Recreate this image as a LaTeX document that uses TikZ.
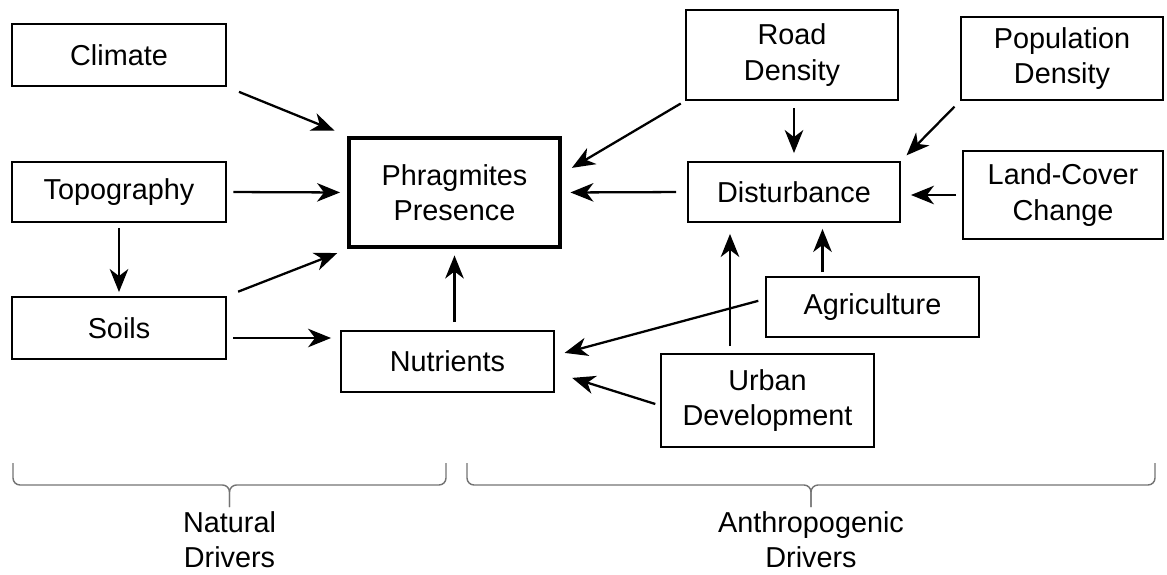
\documentclass[tikz,border=0pt]{standalone}
\usepackage{fontspec}
\setmainfont{Liberation Sans}
\usetikzlibrary{arrows.meta,calc}

\begin{document}
\begin{tikzpicture}[x=0.02cm,y=-0.02cm,
		box/.style={draw, line width=1.1pt, inner sep=0pt, align=center, minimum width=4.26cm, minimum height=1.22cm, font=\fontsize{16.4}{20}\selectfont},
		arr/.style={-{Stealth[length=0.46cm,width=0.37cm,inset=0.14cm]}, line width=1.3pt, shorten <=0.13cm, shorten >=0.13cm},
		brc/.style={draw=black!55, line width=0.8pt, rounded corners=4pt},
		lbl/.style={align=center, font=\fontsize{16.4}{20}\selectfont}]
		\useasboundingbox (0,0) rectangle (1167,575);
		\begin{scope}
			\node[box,minimum width=4.28cm,minimum height=1.24cm] (clim) at (119,55) {Climate};
			\node[box,minimum width=4.28cm,minimum height=1.2cm] (topo) at (119,192) {Topography};
			\node[box,minimum width=4.28cm,minimum height=1.24cm] (soil) at (119,328) {Soils};
			\node[box,line width=2.8pt,minimum width=4.22cm,minimum height=2.18cm] (phrag) at (454.5,192.5) {Phragmites\\Presence};
			\node[box] (nutr) at (447.5,361.5) {Nutrients};
			\coordinate (s1) at ($(soil.east)+(0,10)$);
			\path[arr] (clim.south east) edge[shorten <=0.26cm, shorten >=0.26cm] (phrag.north west)
				(topo.east) edge (phrag.west)
				(topo) edge[shorten <=0.1cm, shorten >=0.08cm] (soil)
				(soil.north east) edge[shorten <=0.24cm, shorten >=0.2cm] (phrag.south west)
				(s1) edge[shorten >=0.18cm] (s1 -| nutr.west)
				(phrag.south |- nutr.north) edge[shorten <=0.16cm, shorten >=0.12cm] (phrag.south);
		\end{scope}
		\begin{scope}
			\node[box,minimum width=4.24cm,minimum height=1.8cm] (road) at (792,55) {Road\\Density};
			\node[box,minimum width=4.04cm,minimum height=1.66cm] (pop) at (1062,58.5) {Population\\Density};
			\node[box,minimum width=4.24cm,minimum height=1.2cm] (dist) at (794,192) {Disturbance};
			\node[box,minimum width=4cm,minimum height=1.76cm] (land) at (1063,195) {Land-Cover\\Change};
			\node[box,minimum height=1.2cm] (agri) at (872.5,307) {Agriculture};
			\node[box,minimum height=1.86cm] (urb) at (767.5,400.5) {Urban\\Development};
			\coordinate (a1) at ($(agri.north)+(-50,0)$);
			\coordinate (u1) at ($(urb.north)+(-37.5,0)$);
			\path[arr] (road.south west) edge[shorten <=0.1cm, shorten >=0.22cm] (phrag.10)
				(road.south -| dist.north) edge[shorten <=0.14cm, shorten >=0.16cm] (dist.north)
				(pop.south west) edge[shorten <=0.16cm, shorten >=0.16cm] (dist.north east)
				(dist.west) edge[shorten <=0.22cm, shorten >=0.16cm] (phrag.west -| phrag.east)
				(land.west) edge[shorten <=0.12cm, shorten >=0.2cm] (land.west -| dist.east)
				(a1) edge[shorten <=0.08cm, shorten >=0.12cm] (a1 |- dist.south)
				(u1) edge[shorten <=0.14cm, shorten >=0.22cm] (u1 |- dist.south)
				($(agri.west)+(0,-8)$) edge[shorten <=0.14cm, shorten >=0.2cm] ($(nutr.east)+(0,-6)$)
				($(urb.west)+(0,5)$) edge[shorten <=0.1cm, shorten >=0.36cm] ($(nutr.east)+(0,11)$);
		\end{scope}
		\coordinate (nL) at (13,463);
		\coordinate (nR) at (446,463);
		\coordinate (nT) at (229.5,507);
		\coordinate (aL) at (467,463);
		\coordinate (aR) at (1155,463);
		\coordinate (aT) at (811,507);
		\draw[brc] (nL) |- ($(nT)+(0,-22)$) -- (nT);
		\draw[brc] (nR) |- ($(nT)+(0,-22)$) -- (nT);
		\draw[brc] (aL) |- ($(aT)+(0,-22)$) -- (aT);
		\draw[brc] (aR) |- ($(aT)+(0,-22)$) -- (aT);
		\node[lbl] (nat) at (229.5,540) {Natural\\Drivers};
		\node[lbl] (anth) at (811,540) {Anthropogenic\\Drivers};
	\end{tikzpicture}
\end{document}
